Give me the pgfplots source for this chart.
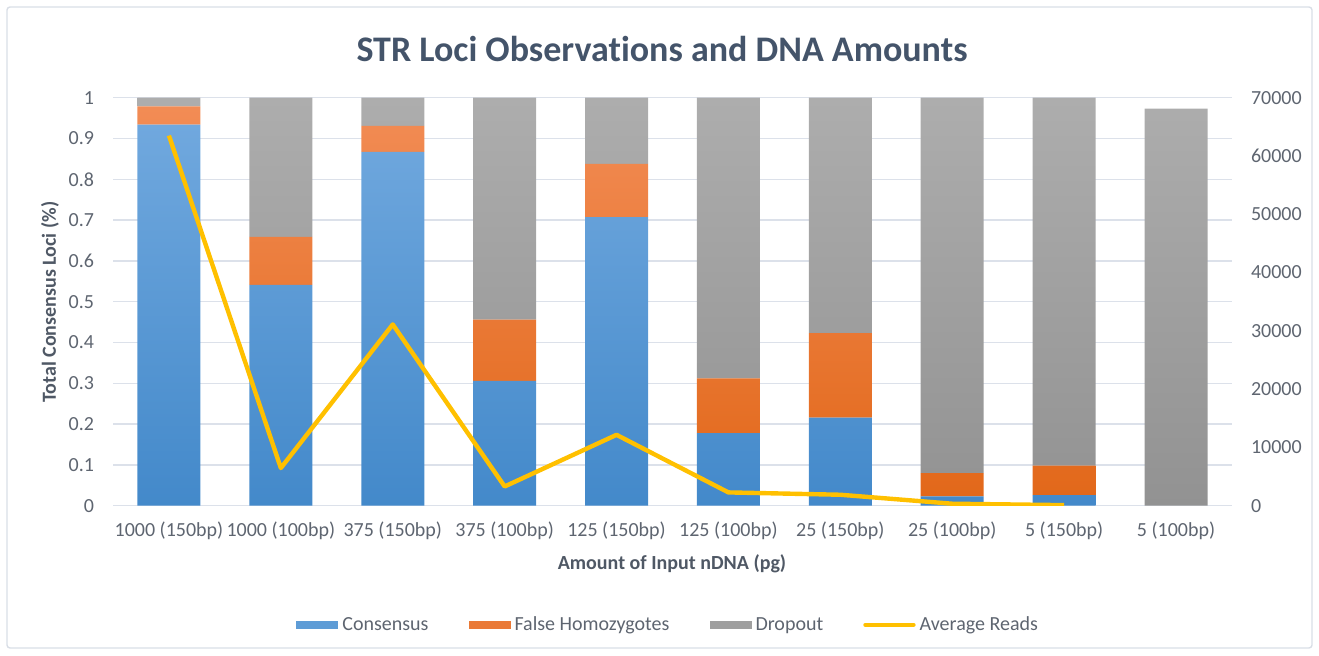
\documentclass[border=0pt]{standalone}
\usepackage{pgfplots}
\pgfplotsset{compat=1.18}
\usepackage{pgfplotstable}
\usepackage{fontspec}
\setmainfont{Carlito}[Ligatures=NoCommon]
\definecolor{cblueT}{HTML}{70A8DE}
\definecolor{cblueB}{HTML}{4389CA}
\definecolor{corT}{HTML}{F28C55}
\definecolor{corB}{HTML}{E2681A}
\definecolor{cgrT}{HTML}{ADADAD}
\definecolor{cgrB}{HTML}{929292}
\definecolor{cyel}{HTML}{FFC000}
\definecolor{ctick}{HTML}{5E6570}
\definecolor{ctitle}{HTML}{44546A}
\definecolor{clab}{HTML}{4F5865}
\definecolor{cgrid}{HTML}{DCE1EA}
\definecolor{cframe}{HTML}{D9DEE6}

\pgfplotstableread{
idx cons fh drop
0 0.934 0.045 0.021
1 0.541 0.118 0.341
2 0.867 0.064 0.069
3 0.306 0.150 0.544
4 0.707 0.131 0.162
5 0.178 0.134 0.688
6 0.216 0.207 0.577
7 0.023 0.057 0.920
8 0.026 0.072 0.902
9 0.000 0.000 0.973
}\barsdata

\pgfplotstableread{
idx reads
0 63500
1 6460
2 31100
3 3300
4 12160
5 2280
6 1880
7 340
8 100
}\readsdata

\begin{document}
\begin{tikzpicture}[x=1pt,y=1pt]
\useasboundingbox (0,0) rectangle (659.5,327.5);
\draw[color=cframe, line width=0.7pt, rounded corners=1.5pt] (3.5,3.5) rectangle (656,324);

\pgfplotsset{
  mygeom/.style={
    scale only axis, width=559.5pt, height=204pt,
    at={(56.5pt,74.65pt)}, anchor=south west,
    xmin=-0.5, xmax=9.5,
    axis line style={draw=none},
    major tick length=0pt,
    tick label style={font=\fontsize{10}{12}\selectfont, text=ctick},
    /pgf/number format/assume math mode=true,
  },
  barleg/.style={
    legend image code/.code={\fill[##1] (0pt,-1.9pt) rectangle (21pt,1.9pt);}
  },
  lineleg/.style={
    legend image code/.code={\draw[##1, line cap=round] (0pt,0pt) -- (24pt,0pt);}
  },
}

\begin{axis}[mygeom,
  ymin=0, ymax=1,
  ybar stacked, bar width=31.5pt,
  xtick={0,...,9},
  xticklabels={1000 (150bp),1000 (100bp),375 (150bp),375 (100bp),125 (150bp),125 (100bp),25 (150bp),25 (100bp),5 (150bp),5 (100bp)},
  xticklabel style={yshift=-4.5pt},
  ytick={0,0.1,0.2,0.3,0.4,0.5,0.6,0.7,0.8,0.9,1},
  yticklabel style={/pgf/number format/fixed, /pgf/number format/precision=1, xshift=-6pt},
  ymajorgrids, grid style={color=cgrid, line width=0.7pt},
  axis on top=false,
]
\addplot[draw=none, top color=cblueT, bottom color=cblueB] table[x=idx,y=cons]{\barsdata};
\addplot[draw=none, top color=corT, bottom color=corB] table[x=idx,y=fh]{\barsdata};
\addplot[draw=none, top color=cgrT, bottom color=cgrB] table[x=idx,y=drop]{\barsdata};
\end{axis}

\begin{axis}[mygeom,
  ymin=0, ymax=70000,
  axis x line=none,
  axis y line*=right,
  ytick={0,10000,20000,30000,40000,50000,60000,70000},
  scaled y ticks=false,
  yticklabel style={/pgf/number format/1000 sep={}, xshift=6pt},
  legend columns=4,
  legend style={at={(0.497,-0.292)}, anchor=center, draw=none, fill=none,
    font=\fontsize{10}{12}\selectfont, text=ctick,
    nodes={text height=1.5ex, text depth=0.4ex},
    /tikz/every even column/.append style={column sep=18pt}},
  legend cell align=left,
]
\addlegendimage{barleg, fill=cblueT!60!cblueB, draw=none}
\addlegendentry{Consensus}
\addlegendimage{barleg, fill=corT!50!corB, draw=none}
\addlegendentry{False Homozygotes}
\addlegendimage{barleg, fill=cgrT!50!cgrB, draw=none}
\addlegendentry{Dropout}
\addplot[lineleg, color=cyel, line width=2.2pt, line join=round, no marks] table[x=idx,y=reads]{\readsdata};
\addlegendentry{Average Reads}
\end{axis}

\node[font=\bfseries\fontsize{18}{21}\selectfont, text=ctitle] at (331,303) {STR Loci Observations and DNA Amounts};
\node[font=\bfseries\fontsize{10}{12}\selectfont, text=clab] at (336,45.5) {Amount of Input nDNA (pg)};
\node[font=\bfseries\fontsize{10}{12}\selectfont, text=clab, rotate=90] at (25,176.5) {Total Consensus Loci (\%)};
\end{tikzpicture}
\end{document}
